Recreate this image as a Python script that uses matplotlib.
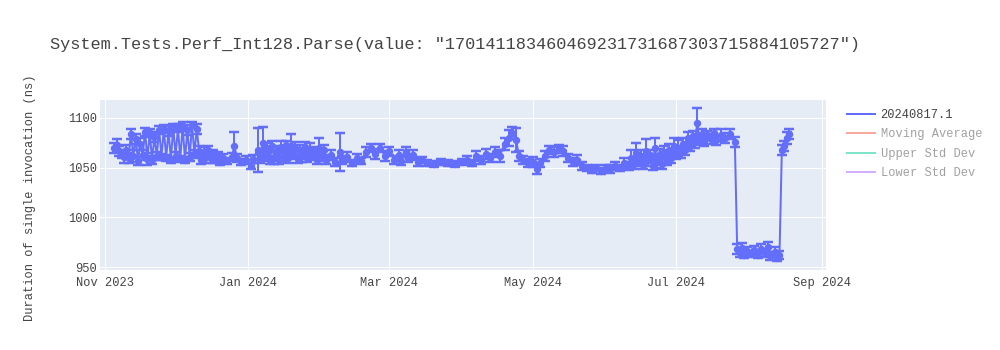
import matplotlib
matplotlib.use("Agg")
import matplotlib.pyplot as plt
import matplotlib.dates as mdates
from matplotlib.lines import Line2D
import pandas as pd

plt.rcParams['font.family'] = ['Liberation Mono', 'DejaVu Sans Mono']

title = 'System.Tests.Perf_Int128.Parse(value: "170141183460469231731687303715884105727")'
ylabel = 'Duration of single invocation (ns)'
series_name = '20240817.1'
hidden_series = ['Moving Average', 'Upper Std Dev', 'Lower Std Dev']

dates = [
    '2023-11-05', '2023-11-06', '2023-11-07', '2023-11-08', '2023-11-09', '2023-11-10', '2023-11-11', '2023-11-12', '2023-11-13', '2023-11-14',
    '2023-11-15', '2023-11-16', '2023-11-17', '2023-11-18', '2023-11-19', '2023-11-20', '2023-11-21', '2023-11-22', '2023-11-23', '2023-11-24',
    '2023-11-25', '2023-11-26', '2023-11-27', '2023-11-28', '2023-11-29', '2023-11-30', '2023-12-01', '2023-12-02', '2023-12-03', '2023-12-04',
    '2023-12-05', '2023-12-06', '2023-12-07', '2023-12-08', '2023-12-09', '2023-12-10', '2023-12-11', '2023-12-12', '2023-12-13', '2023-12-14',
    '2023-12-15', '2023-12-16', '2023-12-17', '2023-12-18', '2023-12-19', '2023-12-20', '2023-12-21', '2023-12-23', '2023-12-25', '2023-12-26',
    '2023-12-27', '2023-12-29', '2023-12-31', '2024-01-02', '2024-01-03', '2024-01-05', '2024-01-06', '2024-01-07', '2024-01-08', '2024-01-09',
    '2024-01-10', '2024-01-11', '2024-01-12', '2024-01-13', '2024-01-14', '2024-01-15', '2024-01-16', '2024-01-17', '2024-01-18', '2024-01-19',
    '2024-01-20', '2024-01-21', '2024-01-22', '2024-01-23', '2024-01-24', '2024-01-25', '2024-01-26', '2024-01-27', '2024-01-28', '2024-01-29',
    '2024-01-30', '2024-01-31', '2024-02-01', '2024-02-02', '2024-02-03', '2024-02-05', '2024-02-07', '2024-02-09', '2024-02-10', '2024-02-12',
    '2024-02-14', '2024-02-16', '2024-02-18', '2024-02-20', '2024-02-22', '2024-02-24', '2024-02-26', '2024-02-28', '2024-03-01', '2024-03-03',
    '2024-03-05', '2024-03-06', '2024-03-08', '2024-03-09', '2024-03-11', '2024-03-13', '2024-03-15', '2024-03-17', '2024-03-20', '2024-03-23',
    '2024-03-26', '2024-03-29', '2024-04-01', '2024-04-03', '2024-04-05', '2024-04-07', '2024-04-09', '2024-04-11', '2024-04-13', '2024-04-15',
    '2024-04-17', '2024-04-19', '2024-04-21', '2024-04-22', '2024-04-24', '2024-04-25', '2024-04-27', '2024-04-29', '2024-05-01', '2024-05-03',
    '2024-05-04', '2024-05-06', '2024-05-08', '2024-05-10', '2024-05-12', '2024-05-14', '2024-05-16', '2024-05-18', '2024-05-20', '2024-05-22',
    '2024-05-24', '2024-05-26', '2024-05-28', '2024-05-30', '2024-06-01', '2024-06-03', '2024-06-05', '2024-06-07', '2024-06-09', '2024-06-11',
    '2024-06-12', '2024-06-13', '2024-06-14', '2024-06-15', '2024-06-16', '2024-06-17', '2024-06-18', '2024-06-19', '2024-06-20', '2024-06-21',
    '2024-06-22', '2024-06-23', '2024-06-24', '2024-06-25', '2024-06-26', '2024-06-27', '2024-06-28', '2024-06-29', '2024-06-30', '2024-07-01',
    '2024-07-02', '2024-07-03', '2024-07-04', '2024-07-05', '2024-07-06', '2024-07-07', '2024-07-08', '2024-07-09', '2024-07-10', '2024-07-11',
    '2024-07-12', '2024-07-13', '2024-07-14', '2024-07-16', '2024-07-17', '2024-07-18', '2024-07-20', '2024-07-22', '2024-07-24', '2024-07-26',
    '2024-07-27', '2024-07-28', '2024-07-29', '2024-07-30', '2024-07-31', '2024-08-02', '2024-08-03', '2024-08-05', '2024-08-06', '2024-08-08',
    '2024-08-09', '2024-08-10', '2024-08-12', '2024-08-13', '2024-08-14', '2024-08-15', '2024-08-16', '2024-08-17', '2024-08-18',
]

values = [
    1070, 1073, 1067, 1064, 1061, 1068, 1060, 1084, 1062, 1079,
    1057, 1074, 1063, 1086, 1059, 1085, 1058, 1081, 1062, 1088,
    1061, 1089, 1060, 1087, 1058, 1091, 1062, 1090, 1059, 1092,
    1058, 1088, 1061, 1093, 1064, 1089, 1067, 1058, 1066, 1061,
    1068, 1060, 1064, 1058, 1062, 1056, 1060, 1057, 1061, 1072,
    1060, 1056, 1058, 1052, 1059, 1068, 1060, 1075, 1063, 1070,
    1058, 1072, 1060, 1067, 1058, 1071, 1062, 1073, 1060, 1072,
    1064, 1070, 1059, 1068, 1062, 1071, 1060, 1069, 1063, 1067,
    1058, 1070, 1062, 1068, 1058, 1063, 1056, 1066, 1058, 1061,
    1055, 1060, 1057, 1066, 1070, 1064, 1070, 1062, 1067, 1058,
    1063, 1057, 1066, 1060, 1063, 1056, 1058, 1055, 1054, 1056,
    1055, 1054, 1056, 1058, 1055, 1062, 1058, 1064, 1060, 1066,
    1062, 1074, 1080, 1085, 1078, 1062, 1058, 1055, 1056, 1049,
    1055, 1062, 1068, 1066, 1069, 1067, 1060, 1056, 1058, 1052,
    1050, 1048, 1050, 1047, 1050, 1049, 1052, 1050, 1055, 1052,
    1060, 1054, 1065, 1057, 1062, 1053, 1067, 1058, 1063, 1052,
    1070, 1056, 1064, 1054, 1066, 1058, 1068, 1060, 1072, 1064,
    1070, 1066, 1074, 1068, 1080, 1072, 1082, 1076, 1095, 1078,
    1084, 1077, 1083, 1079, 1085, 1078, 1083, 1080, 1084, 1076,
    968, 964, 969, 962, 966, 963, 967, 962, 968, 964,
    970, 961, 965, 959, 962, 1068, 1072, 1080, 1084,
]

errors = [
    5, 6, 5, 4, 6, 5, 5, 5, 6, 5,
    4, 6, 5, 4, 6, 4, 4, 5, 4, 4,
    3, 4, 3, 5, 3, 3, 4, 4, 3, 4,
    3, 5, 4, 3, 4, 5, 5, 4, 5, 6,
    4, 5, 4, 3, 4, 3, 4, 3, 4, 14,
    4, 3, 4, 3, 4, 22, 5, 16, 6, 5,
    4, 5, 6, 5, 4, 6, 5, 4, 5, 12,
    5, 6, 4, 5, 6, 5, 4, 6, 5, 4,
    4, 10, 5, 5, 4, 5, 4, 19, 4, 5,
    3, 4, 3, 5, 4, 5, 4, 5, 4, 4,
    5, 4, 5, 4, 5, 4, 3, 3, 3, 3,
    3, 3, 3, 4, 3, 5, 4, 5, 4, 5,
    6, 6, 8, 6, 12, 5, 4, 4, 5, 5,
    4, 5, 4, 5, 4, 5, 4, 4, 5, 4,
    3, 3, 3, 3, 3, 4, 4, 3, 5, 4,
    8, 5, 10, 5, 6, 4, 12, 6, 5, 4,
    10, 6, 5, 5, 6, 5, 6, 5, 8, 5,
    8, 6, 6, 5, 6, 5, 5, 6, 15, 5,
    5, 5, 4, 5, 4, 5, 6, 5, 5, 5,
    5, 4, 5, 3, 4, 3, 4, 3, 5, 4,
    5, 4, 5, 3, 4, 5, 5, 6, 5,
]

x_ticks = ['2023-11-01', '2024-01-01', '2024-03-01', '2024-05-01', '2024-07-01', '2024-09-01']
y_ticks = [950, 1000, 1050, 1100]

BLUE = '#636EFA'
HIDDEN_COLORS = ['#EF553B', '#00CC96', '#AB63FA']
TEXT = '#444444'
PX = 0.72  # points per pixel at dpi 100

fig = plt.figure(figsize=(10, 3.5), dpi=100)
ax = fig.add_axes([0.100, 1 - 270 / 350, 0.726, 170 / 350])
ax.set_facecolor('#E5ECF6')
for s in ax.spines.values():
    s.set_visible(False)

x = pd.to_datetime(dates)
ax.errorbar(x, values, yerr=errors, color=BLUE, lw=2 * PX, marker='o', ms=6 * PX,
            capsize=5 * PX, elinewidth=2 * PX, capthick=2.5 * PX, zorder=3)

ax.set_xlim(pd.Timestamp('2023-10-29 20:00'), pd.Timestamp('2024-09-02 19:00'))
ax.set_ylim(947, 1118)
ax.set_xticks(pd.to_datetime(x_ticks))
ax.xaxis.set_major_formatter(mdates.DateFormatter('%b %Y'))
ax.set_yticks(y_ticks)
ax.grid(True, color='white', lw=1 * PX, zorder=0)
ax.set_axisbelow(True)
ax.tick_params(length=0, labelsize=12 * PX, labelcolor=TEXT)
ax.tick_params(axis='x', pad=5)
ax.tick_params(axis='y', pad=2)

fig.text(0.050, 1 - 45 / 350, title, fontsize=12.15, color=TEXT, va='center', ha='left')
fig.text(0.030, 1 - 198 / 350, ylabel, fontsize=12 * PX, color=TEXT, rotation=90,
         va='center', ha='center')

handles = [Line2D([], [], color=BLUE, lw=2 * PX)]
for c in HIDDEN_COLORS:
    handles.append(Line2D([], [], color=c, lw=2 * PX, alpha=0.5))
labels = [series_name] + hidden_series
leg = fig.legend(handles, labels, loc='upper left', bbox_to_anchor=(0.847, 1 - 109 / 350),
                 frameon=False, fontsize=12 * PX, handlelength=2.3, handletextpad=0.5,
                 labelspacing=0.62, borderpad=0, borderaxespad=0)
for i, t in enumerate(leg.get_texts()):
    t.set_color(TEXT)
    if i > 0:
        t.set_alpha(0.5)

fig.savefig('out.png', dpi=100, facecolor='white')
